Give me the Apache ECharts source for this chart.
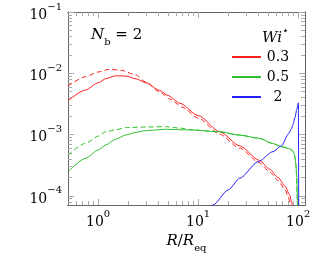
<!DOCTYPE html>
<html>
<head>
<meta charset="utf-8">
<script src="https://cdn.jsdelivr.net/npm/echarts@6/dist/echarts.min.js"></script>
<style>html,body{margin:0;padding:0;background:#fff}#c{width:315px;height:259px}</style>
</head>
<body>
<div id="c"></div>
<script>
// ---- data ----
const R_red = [0.5, 0.75, 1.0, 1.2, 1.5, 1.9, 2.4, 3.0, 4.1, 5.0, 6.6, 10, 16.5, 26, 41, 52, 63, 74, 82, 86, 88, 90];
const V_red = [3.57e-3, 5.35e-3, 7.0e-3, 8.2e-3, 9.1e-3, 9.0e-3, 8.1e-3, 7.0e-3, 5.28e-3, 4.34e-3, 3.23e-3, 2.05e-3, 1.11e-3, 6.56e-4, 3.79e-4, 2.72e-4, 1.99e-4, 1.44e-4, 1.05e-4, 7.9e-5, 6.5e-5, 5e-5];

const R_redD = [0.5, 0.75, 1.0, 1.29, 1.7, 2.38, 3.0, 4.1, 5.2, 7, 10, 16.5, 26, 41, 52, 63, 74, 80, 83, 85, 87];
const V_redD = [6.2e-3, 8.8e-3, 1.05e-2, 1.16e-2, 1.12e-2, 9.4e-3, 7.2e-3, 5.0e-3, 3.8e-3, 2.78e-3, 1.86e-3, 1.01e-3, 6.0e-4, 3.47e-4, 2.45e-4, 1.78e-4, 1.26e-4, 9.5e-5, 7.6e-5, 6e-5, 4.5e-5];

const R_grn = [0.5, 0.75, 1.0, 1.19, 1.5, 1.89, 2.4, 3.0, 4.7, 8.3, 16.5, 26, 41, 55, 68, 80, 86, 90, 92.7, 95, 96.4, 98.6, 99.5];
const V_grn = [2.48e-4, 4.10e-4, 5.6e-4, 6.76e-4, 8.4e-4, 9.84e-4, 1.09e-3, 1.16e-3, 1.22e-3, 1.19e-3, 1.11e-3, 9.8e-4, 8.7e-4, 7.2e-4, 6.35e-4, 5.97e-4, 5.61e-4, 5.2e-4, 4.36e-4, 3.2e-4, 2.19e-4, 7.1e-5, 4e-5];

const R_grnD = [0.5, 0.75, 1.0, 1.19, 1.5, 1.89, 3.0, 4.7, 6.5, 8.85, 16.5, 26, 41, 55, 68, 80, 86, 90, 92.7, 95, 96.4, 98.6, 99.5];
const V_grnD = [4.65e-4, 7.21e-4, 9.4e-4, 1.11e-3, 1.2e-3, 1.30e-3, 1.33e-3, 1.35e-3, 1.28e-3, 1.19e-3, 1.11e-3, 9.8e-4, 8.7e-4, 7.2e-4, 6.35e-4, 5.97e-4, 5.61e-4, 5.2e-4, 4.36e-4, 3.2e-4, 2.19e-4, 7.1e-5, 4e-5];

const R_blu = [12, 14.1, 20, 26.1, 39.8, 56, 68.2, 80, 85.9, 88.5, 92.7, 97, 99.5, 100.5, 101.3];
const V_blu = [5.5e-5, 7.1e-5, 1.25e-4, 1.94e-4, 3.61e-4, 5.27e-4, 6.59e-4, 1.03e-3, 1.25e-3, 1.44e-3, 1.87e-3, 2.6e-3, 3.1e-3, 3.3e-3, 4e-5];

const legendNames = ['0.3', '0.5', '2'];
const xMajor = [1, 10, 100];
const xMinor = [0.6, 0.7, 0.8, 0.9, 2, 3, 4, 5, 6, 7, 8, 9, 20, 30, 40, 50, 60, 70, 80, 90];
const yMajor = [1e-4, 1e-3, 1e-2, 1e-1];
const yMinor = [8e-5, 9e-5, 2e-4, 3e-4, 4e-4, 5e-4, 6e-4, 7e-4, 8e-4, 9e-4, 2e-3, 3e-3, 4e-3, 5e-3, 6e-3, 7e-3, 8e-3, 9e-3, 2e-2, 3e-2, 4e-2, 5e-2, 6e-2, 7e-2, 8e-2, 9e-2];
const X_MIN = 0.5, X_MAX = 117, Y_MIN = 7.1e-5, Y_MAX = 0.1;

// ---- styling ----
const FONT = 'DejaVu Serif';
const FRAME = '#666';
const TICK = '#aaa';
const RED = '#ff2020', GREEN = '#2ec02e', BLUE = '#2020ff';

const richLbl = {
  b: {fontFamily: FONT, fontSize: 14, color: '#000', verticalAlign: 'bottom', lineHeight: 20},
  s: {fontFamily: FONT, fontSize: 10, color: '#000', verticalAlign: 'top', lineHeight: 10}
};
function pow10(v) {
  const e = Math.round(Math.log10(v));
  return '{b|10}{s|' + (e < 0 ? '\u2212' + (-e) : e) + '}';
}
function zip(a, b) { return a.map((r, i) => [r, b[i]]); }

function axis(kind, pos, major, withLabels) {
  const isX = kind === 'x';
  return {
    type: 'log', position: pos,
    min: isX ? X_MIN : Y_MIN, max: isX ? X_MAX : Y_MAX,
    axisLine: {show: true, lineStyle: {color: FRAME, width: 1}},
    axisTick: {show: true, inside: true, length: major ? 6 : 4,
      customValues: isX ? (major ? xMajor : xMinor) : (major ? yMajor : yMinor),
      lineStyle: {color: TICK, width: 1}},
    axisLabel: withLabels ? {show: true, customValues: isX ? xMajor : yMajor, formatter: pow10,
      rich: richLbl, margin: isX ? 4 : 6} : {show: false},
    splitLine: {show: false}, minorTick: {show: false}, minorSplitLine: {show: false}
  };
}

const xAxes = [axis('x', 'bottom', true, true), axis('x', 'top', true, false), axis('x', 'bottom', false, false), axis('x', 'top', false, false)];
xAxes[0].name = '{i|R}{n|/}{i|R}{s|eq}';
xAxes[0].nameLocation = 'middle';
xAxes[0].nameGap = 26;
xAxes[0].nameTextStyle = {rich: {
  i: {fontFamily: FONT, fontStyle: 'italic', fontSize: 15, color: '#000', verticalAlign: 'top', lineHeight: 20},
  n: {fontFamily: FONT, fontSize: 15, color: '#000', verticalAlign: 'top', lineHeight: 20},
  s: {fontFamily: FONT, fontSize: 10, color: '#000', verticalAlign: 'bottom', lineHeight: 10}
}};
const yAxes = [axis('y', 'left', true, true), axis('y', 'right', true, false), axis('y', 'left', false, false), axis('y', 'right', false, false)];

function line(name, R, V, color, dashed) {
  return {
    type: 'line', name: name, data: zip(R, V), xAxisIndex: 0, yAxisIndex: 0,
    symbol: 'none', smooth: 0.25, smoothMonotone: 'x', clip: true,
    lineStyle: {color: color, width: 1, type: dashed ? [5, 3] : 'solid'},
    itemStyle: {color: color}, emphasis: {disabled: true}
  };
}

const option = {
  animation: false,
  grid: {left: 68, top: 12, width: 237, height: 193, containLabel: false},
  title: [
    {text: '{i|N}{s|b}{n| = 2}', left: 86, top: 23, textStyle: {fontWeight: 'normal', rich: {
      i: {fontFamily: FONT, fontStyle: 'italic', fontWeight: 'normal', fontSize: 15, color: '#000', verticalAlign: 'top', lineHeight: 19},
      n: {fontFamily: FONT, fontWeight: 'normal', fontSize: 15, color: '#000', verticalAlign: 'top', lineHeight: 19},
      s: {fontFamily: FONT, fontWeight: 'normal', fontSize: 10, color: '#000', verticalAlign: 'bottom', lineHeight: 10}}}},
    {text: '{i|Wi}{p|\u22c6}', left: 257, top: 21, textStyle: {fontWeight: 'normal', rich: {
      i: {fontFamily: FONT, fontStyle: 'italic', fontWeight: 'normal', fontSize: 15, color: '#000', verticalAlign: 'bottom', lineHeight: 20},
      p: {fontFamily: 'DejaVu Sans', fontWeight: 'normal', fontSize: 11, color: '#000', verticalAlign: 'top', lineHeight: 11}}}}
  ],
  legend: {
    data: legendNames, orient: 'vertical', left: 226, top: 45,
    itemWidth: 29, itemHeight: 14, itemGap: 6, selectedMode: false,
    itemStyle: {opacity: 0, color: 'rgba(0,0,0,0)', borderColor: 'rgba(0,0,0,0)', borderWidth: 0},
    formatter: n => '{c|' + n + '}',
    textStyle: {fontFamily: FONT, fontSize: 14, color: '#000',
      rich: {c: {fontFamily: FONT, fontSize: 14, color: '#000', width: 24, align: 'center'}}}
  },
  xAxis: xAxes,
  yAxis: yAxes,
  series: [
    line('0.3 dashed', R_redD, V_redD, RED, true),
    line('0.3', R_red, V_red, RED, false),
    line('0.5 dashed', R_grnD, V_grnD, GREEN, true),
    line('0.5', R_grn, V_grn, GREEN, false),
    line('2', R_blu, V_blu, BLUE, false)
  ]
};
const chart = echarts.init(document.getElementById('c'), null, {renderer: 'canvas'});
chart.setOption(option);
</script>
</body>
</html>
